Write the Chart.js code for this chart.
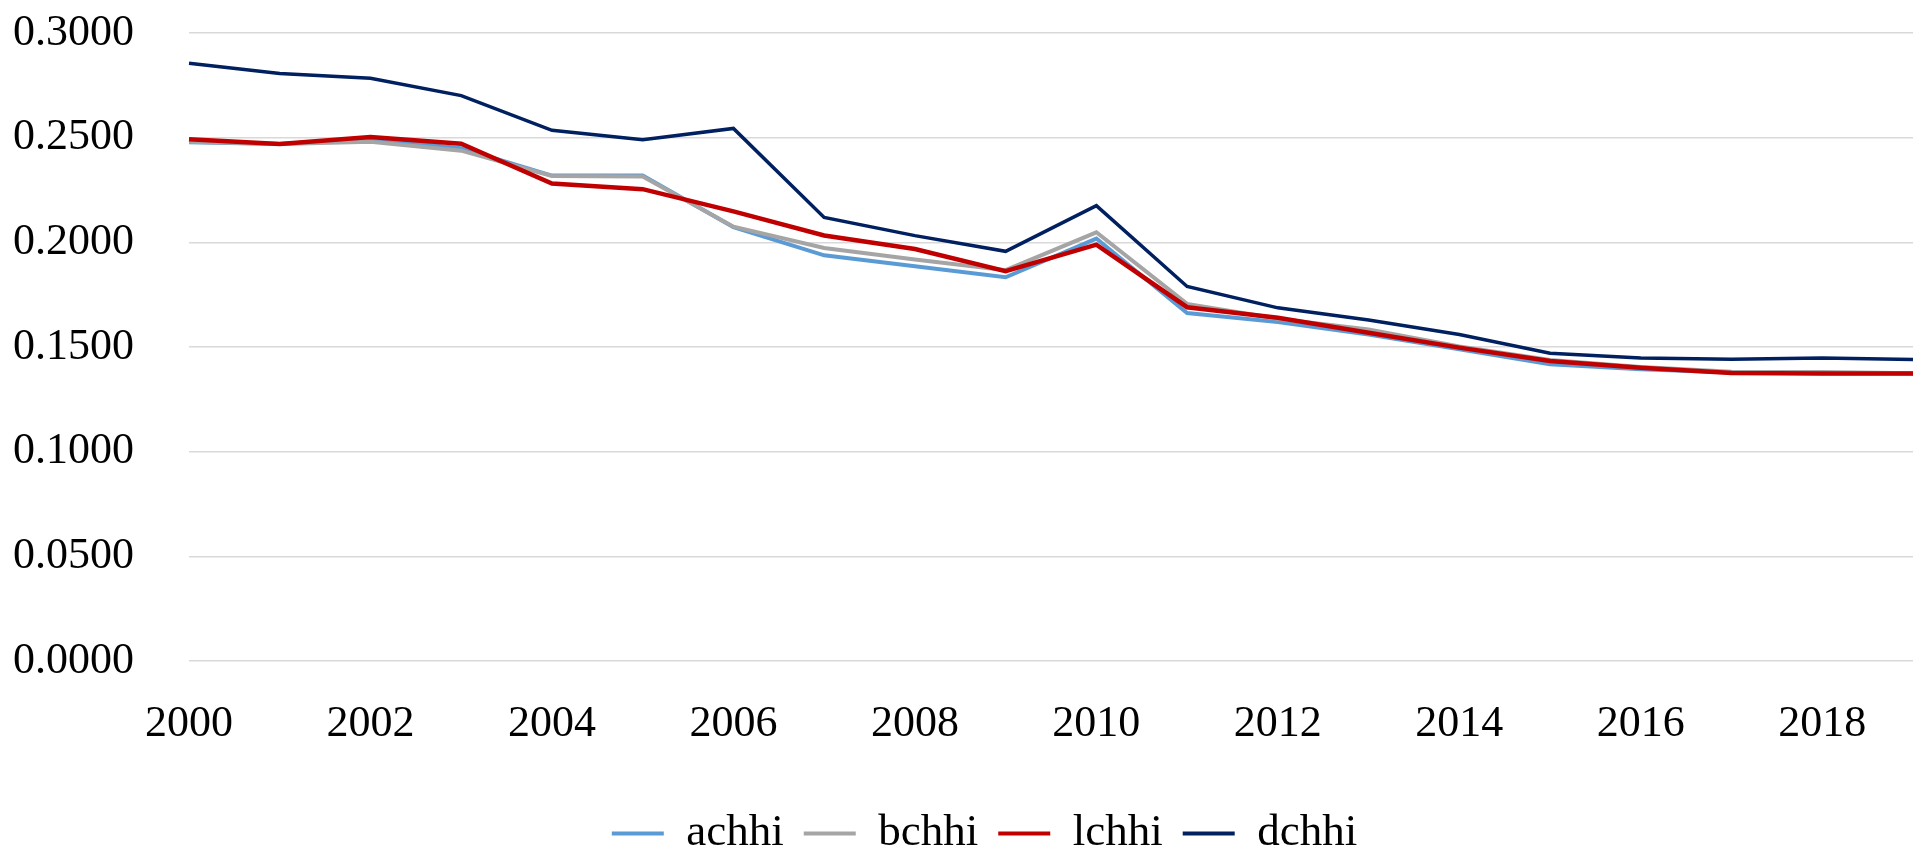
<!DOCTYPE html>
<html>
<head>
<meta charset="utf-8">
<script src="https://cdn.jsdelivr.net/npm/chart.js@4/dist/chart.umd.min.js"></script>
<style>
  html, body { margin: 0; padding: 0; background: #fff; overflow: hidden; }
  #wrap { position: absolute; left: 0; top: 0; width: 1956px; height: 866px; }
</style>
</head>
<body>
<div id="wrap"><canvas id="chartHhi"></canvas></div>
<script>
const years = ["2000", "2001", "2002", "2003", "2004", "2005", "2006", "2007", "2008", "2009",
               "2010", "2011", "2012", "2013", "2014", "2015", "2016", "2017", "2018", "2019"];

const achhi = [0.2478, 0.2470, 0.2494, 0.2449, 0.2319, 0.2319, 0.2073, 0.1938, 0.1886, 0.1833,
               0.2018, 0.1662, 0.1619, 0.1560, 0.1489, 0.1418, 0.1394, 0.1378, 0.1375, 0.1373];
const bchhi = [0.2481, 0.2470, 0.2481, 0.2438, 0.2317, 0.2314, 0.2075, 0.1973, 0.1918, 0.1867,
               0.2048, 0.1706, 0.1635, 0.1584, 0.1502, 0.1438, 0.1405, 0.1382, 0.1381, 0.1375];
const lchhi = [0.2492, 0.2470, 0.2503, 0.2471, 0.2281, 0.2254, 0.2148, 0.2033, 0.1968, 0.1862,
               0.1989, 0.1690, 0.1640, 0.1568, 0.1497, 0.1433, 0.1401, 0.1376, 0.1373, 0.1373];
const dchhi = [0.2856, 0.2806, 0.2784, 0.2701, 0.2535, 0.2490, 0.2544, 0.2119, 0.2032, 0.1957,
               0.2175, 0.1789, 0.1687, 0.1629, 0.1560, 0.1470, 0.1448, 0.1441, 0.1448, 0.1440];

const yTicks = [0, 0.05, 0.10, 0.15, 0.20, 0.25, 0.30];

const serif = "'Liberation Serif', 'Times New Roman', serif";

function series(label, data, color, width, order) {
  return {
    label, data,
    borderColor: color,
    backgroundColor: color,
    borderWidth: width,
    pointRadius: 0,
    tension: 0,
    order,
  };
}

new Chart(document.getElementById("chartHhi"), {
  type: "line",
  data: {
    labels: years,
    datasets: [
      series("achhi", achhi, "#5b9bd5", 4, 4),
      series("bchhi", bchhi, "#a5a5a5", 4, 3),
      series("lchhi", lchhi, "#c00000", 4.5, 2),
      series("dchhi", dchhi, "#002060", 3.5, 1),
    ],
  },
  options: {
    responsive: true,
    maintainAspectRatio: false,
    animation: false,
    layout: { padding: { top: 33, right: 0, left: 13, bottom: 0 } },
    plugins: {
      tooltip: { enabled: false },
      legend: {
        position: "bottom",
        labels: {
          font: { family: serif, size: 45 },
          color: "#000",
          boxWidth: 52,
          boxHeight: 4,
          padding: 20,
          sort: (a, b) => a.datasetIndex - b.datasetIndex,
          generateLabels(chart) {
            const items = Chart.defaults.plugins.legend.labels.generateLabels(chart);
            items.forEach(it => { it.fillStyle = it.strokeStyle; it.lineWidth = 0; });
            return items;
          },
        },
      },
    },
    scales: {
      x: {
        type: "category",
        offset: false,
        grid: { display: false, drawTicks: false },
        border: { display: false },
        ticks: {
          autoSkip: false,
          maxRotation: 0,
          padding: 37,
          color: "#000",
          font: { family: serif, size: 44 },
          callback(value, index) { return index % 2 === 0 ? years[index] : ""; },
        },
        afterFit(scale) { scale.height = 130; },
      },
      y: {
        min: 0,
        max: 0.3,
        afterBuildTicks(scale) { scale.ticks = yTicks.map(v => ({ value: v })); },
        grid: { color: "#d9d9d9", lineWidth: 1.5, drawTicks: false },
        border: { display: false },
        ticks: {
          padding: 0,
          crossAlign: "far",
          color: "#000",
          font: { family: serif, size: 44 },
          callback: v => v.toFixed(4),
        },
        afterFit(scale) { scale.width = 176; },
      },
      // empty strip on the right so the plot stops short of the legend's full width
      yRight: {
        position: "right",
        grid: { display: false, drawTicks: false },
        border: { display: false },
        ticks: { display: false },
        afterFit(scale) { scale.width = 43; },
      },
    },
  },
});
</script>
</body>
</html>
